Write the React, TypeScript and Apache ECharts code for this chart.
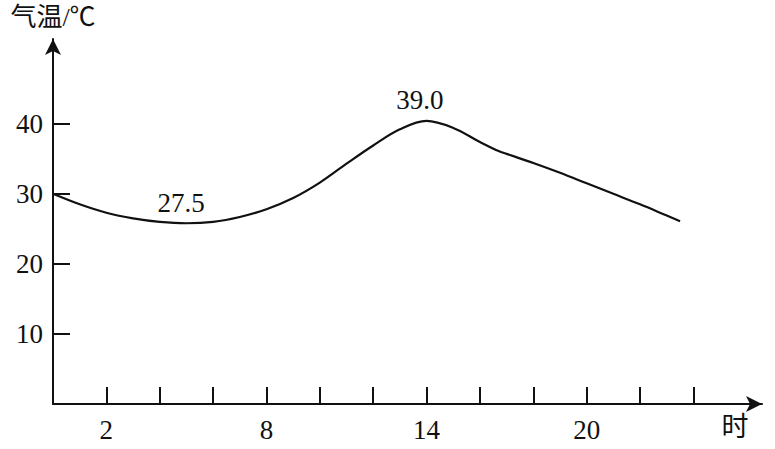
import React, { useEffect, useRef } from "react";
import * as echarts from "echarts";

const hours = [0, 1, 2, 3, 4, 5, 6, 7, 8, 9, 10, 11, 12, 13, 14, 15, 16, 16.7, 17, 18, 19, 20, 21, 22, 23, 23.5];
const temps = [30.0, 28.5, 27.3, 26.5, 26.0, 25.8, 26.0, 26.7, 27.8, 29.4, 31.6, 34.3, 36.9, 39.2, 40.4, 39.4, 37.4, 36.1, 35.7, 34.4, 33.0, 31.5, 30.0, 28.5, 26.9, 26.1];
const annotHours = [4.8, 13.75];
const annotTemps = [25.8, 40.4];
const annotTexts = ["27.5", "39.0"];
const xTicks = [2, 4, 6, 8, 10, 12, 14, 16, 18, 20, 22, 24];
const xLabels = [2, 8, 14, 20];
const yTicks = [10, 20, 30, 40];

const FONT = "'Liberation Serif', 'Noto Sans CJK SC', serif";
const INK = "#111111";

export default function App() {
  const ref = useRef<HTMLDivElement>(null);
  useEffect(() => {
    if (!ref.current) return;
    const chart = echarts.init(ref.current, null, { renderer: "svg" });
    chart.setOption({
      animation: false,
      backgroundColor: "#ffffff",
      grid: { left: 53, right: 13, top: 39, bottom: 45, containLabel: false, outerBoundsMode: "none" },
      xAxis: {
        type: "value",
        min: 0,
        max: 26.57,
        name: "时",
        nameLocation: "end",
        nameGap: -27,
        nameTextStyle: { fontFamily: FONT, fontSize: 27, color: INK, align: "center", verticalAlign: "top", padding: [10, 0, 0, 0] },
        splitLine: { show: false },
        axisLine: { show: true, lineStyle: { color: INK, width: 2 }, symbol: ["none", "arrow"], symbolSize: [12, 16] },
        axisTick: { show: true, inside: true, length: 17, customValues: xTicks, lineStyle: { color: INK, width: 2 } },
        axisLabel: { customValues: xLabels, fontFamily: FONT, fontSize: 27, color: INK, margin: 12 },
      },
      yAxis: {
        type: "value",
        min: 0,
        max: 52.1,
        name: "气温/℃",
        nameLocation: "end",
        nameGap: 9,
        nameTextStyle: { fontFamily: FONT, fontSize: 26, color: INK, align: "center" },
        splitLine: { show: false },
        axisLine: { show: true, lineStyle: { color: INK, width: 2 }, symbol: ["none", "arrow"], symbolSize: [12, 16] },
        axisTick: { show: true, inside: true, length: 17, customValues: yTicks, lineStyle: { color: INK, width: 2 } },
        axisLabel: { customValues: yTicks, fontFamily: FONT, fontSize: 27, color: INK, margin: 10 },
      },
      series: [
        {
          type: "line",
          data: hours.map((h, i) => [h, temps[i]]),
          smooth: 0.35,
          showSymbol: false,
          lineStyle: { color: INK, width: 2.2 },
        },
        {
          type: "scatter",
          data: annotHours.map((h, i) => [h, annotTemps[i]]),
          symbolSize: 0,
          itemStyle: { opacity: 1 },
          label: {
            show: true,
            position: "top",
            distance: 7,
            formatter: (p: any) => annotTexts[p.dataIndex],
            fontFamily: FONT,
            fontSize: 27,
            color: INK,
            opacity: 1,
          },
        },
      ],
    });
    return () => chart.dispose();
  }, []);
  return <div ref={ref} style={{ width: 775, height: 449, position: "absolute", left: 0, top: 0 }} />;
}
